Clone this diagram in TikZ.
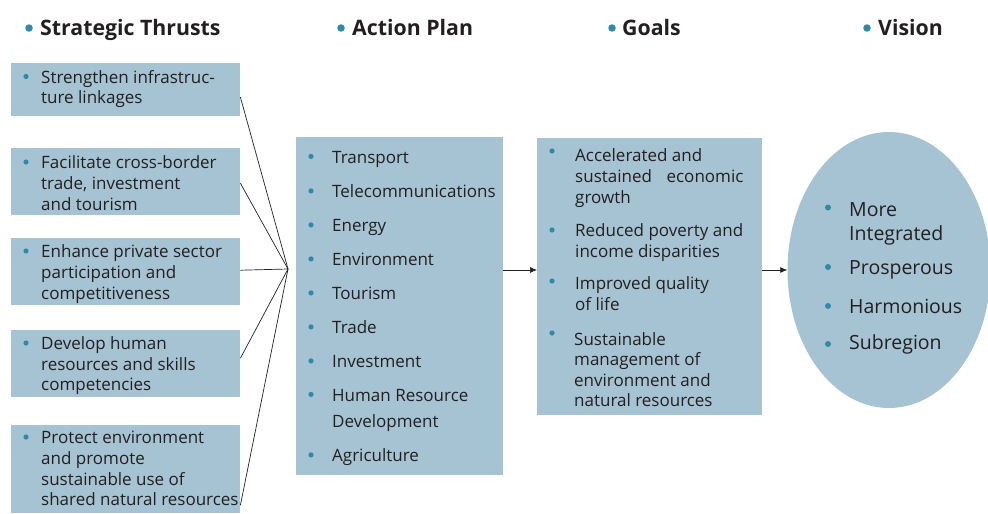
\documentclass[tikz,border=0pt]{standalone}
\usepackage{fontspec}
\setmainfont{Open Sans}
\usetikzlibrary{arrows.meta,calc,shapes.geometric}
\definecolor{boxblue}{HTML}{A6C3D3}
\definecolor{bulteal}{HTML}{2E8BA8}
\definecolor{txt}{HTML}{231F20}
\begin{document}
\begin{tikzpicture}[x=1pt,y=-1pt,
  box/.style={fill=boxblue,draw=none,inner sep=0pt,anchor=north west},
  bul/.style={circle,fill=bulteal,inner sep=0pt,minimum size=5.2pt},
  vbul/.style={circle,fill=bulteal,inner sep=0pt,minimum size=6pt},
  hbul/.style={circle,fill=bulteal,inner sep=0pt,minimum size=7.5pt},
  ln/.style={anchor=base west,inner sep=0pt,font=\fontsize{17}{20}\selectfont,text=txt},
  vln/.style={anchor=base west,inner sep=0pt,font=\fontsize{19.5}{22}\selectfont,text=txt},
  head/.style={anchor=base west,inner sep=0pt,font=\fontsize{21.3}{24}\selectfont\bfseries,text=txt},
  con/.style={draw=txt,line width=0.7pt},
  arr/.style={draw=txt,line width=0.7pt,-{Latex[length=7pt,width=6pt]}}]
\useasboundingbox (0,0) rectangle (988,514);
% headers
\node[hbul] (hb1) at (29,28) {}; \node[head] (h1) at (40,35) {Strategic Thrusts};
\node[hbul] (hb2) at (341,28) {}; \node[head] (h2) at (352,35) {Action Plan};
\node[hbul] (hb3) at (612,28) {}; \node[head] (h3) at (622,35) {Goals};
\node[hbul] (hb4) at (867,28) {}; \node[head] (h4) at (878,35) {Vision};
% left boxes
\node[box,minimum width=229pt,minimum height=53pt] (s1) at (11,63) {};
\node[box,minimum width=229pt,minimum height=67pt] (s2) at (11,148) {};
\node[box,minimum width=229pt,minimum height=67pt] (s3) at (11,238) {};
\node[box,minimum width=229pt,minimum height=67pt] (s4) at (11,330) {};
\node[box,minimum width=229pt,minimum height=88pt] (s5) at (11,425) {};
% middle boxes
\node[box,minimum width=207pt,minimum height=338pt] (a) at (296,137) {};
\node[box,minimum width=225pt,minimum height=277pt] (g) at (537,138) {};
\node[ellipse,fill=boxblue,minimum width=203pt,minimum height=276pt,inner sep=0pt] (v) at (889,270) {};
% strategic thrusts text
\node[bul] at (26,76.5) {}; \node[ln] at (41,83) {Strengthen infrastruc-}; \node[ln] at (41,103) {ture linkages};
\node[bul] at (26,162) {}; \node[ln] at (41,168.5) {Facilitate cross-border}; \node[ln] at (41,189.5) {trade, investment}; \node[ln] at (41,210.5) {and tourism};
\node[bul] at (26,251) {}; \node[ln] at (41,257.5) {Enhance private sector}; \node[ln] at (41,278.5) {participation and}; \node[ln] at (41,299.5) {competitiveness};
\node[bul] at (26,343) {}; \node[ln] at (41,349.5) {Develop human}; \node[ln] at (41,370) {resources and skills}; \node[ln] at (41,390.5) {competencies};
\node[bul] at (26,437) {}; \node[ln] at (41,443.5) {Protect environment}; \node[ln] at (41,464) {and promote}; \node[ln] at (41,485) {sustainable use of}; \node[ln] at (41,505) {shared natural resources};
% action plan text
\foreach \t/\y in {Transport/163,Telecommunications/197.5,Energy/231.5,Environment/265.5,Tourism/299.5,Trade/333.5,Investment/367.5,Human Resource/401,Agriculture/461.5}{
  \node[bul] at (311,\y-6.6) {}; \node[ln] at (332,\y) {\t};}
\node[ln] at (332,427) {Development};
% goals text
\node[bul] at (552,151) {}; \node[ln] at (575,161) {Accelerated and}; \node[ln] at (575,182) {sustained\hspace{0.6em} economic}; \node[ln] at (575,203) {growth};
\node[bul] at (552,230) {}; \node[ln] at (575,236.5) {Reduced poverty and}; \node[ln] at (575,257) {income disparities};
\node[bul] at (552,281) {}; \node[ln] at (575,289.5) {Improved quality}; \node[ln] at (575,310) {of life};
\node[bul] at (552,333) {}; \node[ln] at (574,345) {Sustainable}; \node[ln] at (574,365.5) {management of}; \node[ln] at (574,386) {environment and}; \node[ln] at (574,406.5) {natural resources};
% vision text
\node[vbul] at (828,207.5) {}; \node[vln] at (849,216.5) {More}; \node[vln] at (849,240) {Integrated};
\node[vbul] at (828,267) {}; \node[vln] at (849,274) {Prosperous};
\node[vbul] at (828,306) {}; \node[vln] at (849,313) {Harmonious};
\node[vbul] at (828,344) {}; \node[vln] at (849,349.5) {Subregion};
% connectors
\coordinate (hub) at (288,269);
\draw[con] ([yshift=-7.5pt]s1.east) -- (hub);
\draw[con] ([yshift=-1.5pt]s2.east) -- (hub);
\draw[con] ([yshift=1.5pt]s3.east) -- (hub);
\draw[con] ([yshift=5.5pt]s4.east) -- (hub);
\draw[con] ([yshift=-36pt]s5.east) -- (hub);
\draw[arr] (a.east |- 0,270) -- (g.west |- 0,270);
\draw[arr] (g.east |- 0,270) -- (v.west);
\end{tikzpicture}
\end{document}
